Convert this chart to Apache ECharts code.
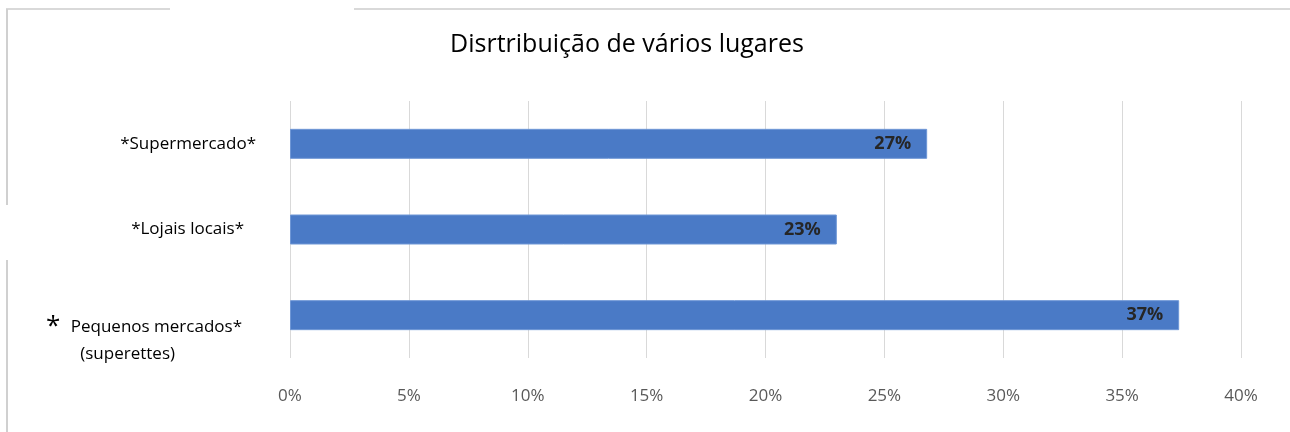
<!DOCTYPE html>
<html>
<head>
<meta charset="utf-8">
<script src="https://cdn.jsdelivr.net/npm/echarts@6/dist/echarts.min.js"></script>
<style>
  html, body { margin: 0; padding: 0; background: #fff; }
  #chart { width: 1290px; height: 432px; }
</style>
</head>
<body>
<div id="chart"></div>
<script>
// 类别（从上到下）
const categories = ["*Supermercado*", "*Lojais locais*", "* Pequenos mercados*\n(superettes)"];
// 百分比数值
const values = [26.8, 23.0, 37.4];
// x轴刻度
const tickMin = 0;
const tickMax = 40;
const tickStep = 5;

let chart = echarts.init(document.getElementById("chart"));

let option = {
  animation: false,
  title: {
    text: "Disrtribuição de vários lugares",
    left: 622,
    textAlign: "center",
    top: 27,
    textStyle: {
      fontFamily: "Open Sans",
      fontWeight: "normal",
      fontSize: 25,
      color: "#000",
    },
  },
  grid: {
    left: 290,
    right: 49,
    top: 101,
    bottom: 74,
    containLabel: false,
  },
  xAxis: {
    type: "value",
    min: tickMin,
    max: tickMax,
    interval: tickStep,
    axisLine: { show: false },
    axisTick: { show: false },
    splitLine: { show: true, lineStyle: { color: "#d9d9d9", width: 1 } },
    axisLabel: {
      formatter: "{value}%",
      color: "#595959",
      fontFamily: "Open Sans",
      fontSize: 17,
      margin: 30,
    },
  },
  yAxis: {
    type: "category",
    inverse: true,
    data: categories,
    axisLine: { show: false },
    axisTick: { show: false },
    axisLabel: {
      color: "#000",
      fontFamily: "Open Sans",
      fontSize: 17,
      margin: 34,
      formatter: function (val, idx) {
        if (idx === 1) {
          return "{lj|" + val + "}";
        }
        if (val.indexOf("Pequenos") >= 0) {
          return "{gap| }\n{big|*}{p| Pequenos mercados*}\n{s|(superettes)}";
        }
        return val;
      },
      rich: {
        lj: { fontSize: 17, fontFamily: "Open Sans", color: "#000", padding: [0, 12, 0, 0] },
        gap: { fontSize: 10, lineHeight: 50 },
        big: { fontSize: 26, fontFamily: "Open Sans", color: "#000", lineHeight: 27, padding: [0, 6, 0, 0] },
        p: { fontSize: 17, fontFamily: "Open Sans", color: "#000", lineHeight: 27, padding: [0, 14, 0, 0] },
        s: { fontSize: 17, fontFamily: "Open Sans", color: "#000", lineHeight: 27, padding: [0, 81, 0, 0] },
      },
    },
  },
  series: [
    {
      type: "bar",
      data: values,
      barWidth: 30,
      itemStyle: { color: "#4a7ac6", borderColor: "#6f97d6", borderWidth: 1 },
      label: {
        show: true,
        position: "insideRight",
        distance: 16,
        formatter: function (p) {
          return Math.round(p.value) + "%";
        },
        color: "#262626",
        fontWeight: "bold",
        fontFamily: "Open Sans",
        fontSize: 18,
      },
    },
  ],
  graphic: [
    { type: "line", shape: { x1: 6, y1: 9, x2: 170, y2: 9 }, style: { stroke: "#d9d9d9", lineWidth: 2 } },
    { type: "line", shape: { x1: 354, y1: 9, x2: 1290, y2: 9 }, style: { stroke: "#d9d9d9", lineWidth: 2 } },
    { type: "line", shape: { x1: 7, y1: 9, x2: 7, y2: 205 }, style: { stroke: "#d0d0d0", lineWidth: 2 } },
    { type: "line", shape: { x1: 7, y1: 260, x2: 7, y2: 432 }, style: { stroke: "#d0d0d0", lineWidth: 2 } },
  ],
};
option && chart.setOption(option);
</script>
</body>
</html>
